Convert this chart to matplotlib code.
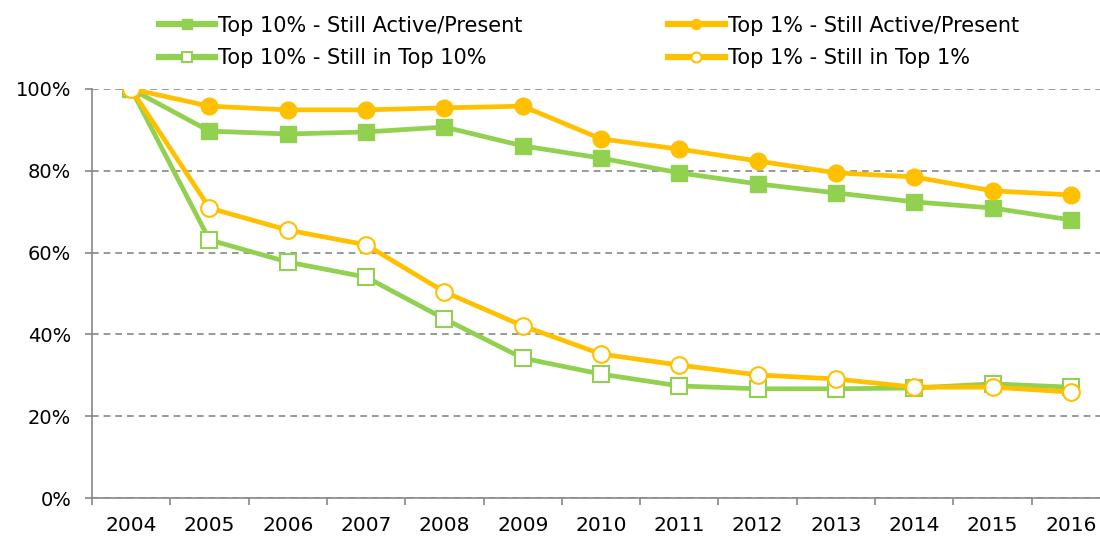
import numpy as np
import matplotlib.pyplot as plt
from matplotlib.ticker import PercentFormatter, FixedLocator

years = ['2004', '2005', '2006', '2007', '2008', '2009', '2010',
         '2011', '2012', '2013', '2014', '2015', '2016']
top10_active = [100, 89.7, 89.0, 89.5, 90.7, 86.1, 83.1, 79.5, 76.8, 74.6, 72.4, 70.9, 68.0]
top1_active = [100, 95.8, 94.9, 94.9, 95.4, 95.8, 87.8, 85.3, 82.4, 79.5, 78.5, 75.1, 74.1]
top10_still = [100, 63.1, 57.7, 54.0, 43.8, 34.2, 30.3, 27.4, 26.7, 26.7, 26.9, 27.9, 27.1]
top1_still = [100, 70.9, 65.5, 61.9, 50.4, 42.1, 35.2, 32.5, 30.1, 29.1, 27.1, 27.1, 25.9]

green = '#92D050'
gold = '#FFC000'

fig = plt.figure(figsize=(11, 5.36), dpi=100)
ax = fig.add_axes([92 / 1100, 38 / 536, 1018 / 1100, 409 / 536])

x = np.arange(len(years))
lw = 3.4
l1, = ax.plot(x, top10_active, color=green, lw=lw, marker='s', ms=11,
              mfc=green, mec=green, label='Top 10% - Still Active/Present')
l2, = ax.plot(x, top10_still, color=green, lw=lw, marker='s', ms=11,
              mfc='white', mec=green, mew=1.5, label='Top 10% - Still in Top 10%')
l3, = ax.plot(x, top1_active, color=gold, lw=lw, marker='o', ms=12,
              mfc=gold, mec=gold, label='Top 1% - Still Active/Present')
l4, = ax.plot(x, top1_still, color=gold, lw=lw, marker='o', ms=12,
              mfc='white', mec=gold, mew=1.5, label='Top 1% - Still in Top 1%')

ax.set_xlim(-0.5, 12.5)
ax.set_ylim(0, 100)
ax.yaxis.set_major_locator(FixedLocator([0, 20, 40, 60, 80, 100]))
ax.yaxis.set_major_formatter(PercentFormatter(decimals=0))
ax.set_xticks(x)
ax.set_xticklabels(years)
ax.set_xticks(np.arange(-0.5, 12.6, 1), minor=True)
ax.tick_params(axis='x', which='major', length=0, pad=13, labelsize=14.5)
ax.tick_params(axis='x', which='minor', length=5, color='#888888', width=1.2)
ax.tick_params(axis='y', length=5, color='#888888', width=1.2, labelsize=14, pad=10)

ax.grid(axis='y', color='#888888', ls=(0, (4, 3)), lw=1.2)
ax.set_axisbelow(True)
for s in ['top', 'right']:
    ax.spines[s].set_visible(False)
for s in ['left', 'bottom']:
    ax.spines[s].set_color('#888888')
    ax.spines[s].set_linewidth(1.2)

leg = fig.legend(handles=[l1, l2, l3, l4], ncol=2, loc='upper left',
                 bbox_to_anchor=(140 / 1100, 1.0 + 3 / 536), frameon=False, fontsize=15,
                 markerscale=0.6, handlelength=2.7, handletextpad=0.15,
                 columnspacing=7.0, labelspacing=0.6)
for h in leg.legend_handles:
    h.set_linewidth(4.5)

fig.savefig('out.png', dpi=100)
